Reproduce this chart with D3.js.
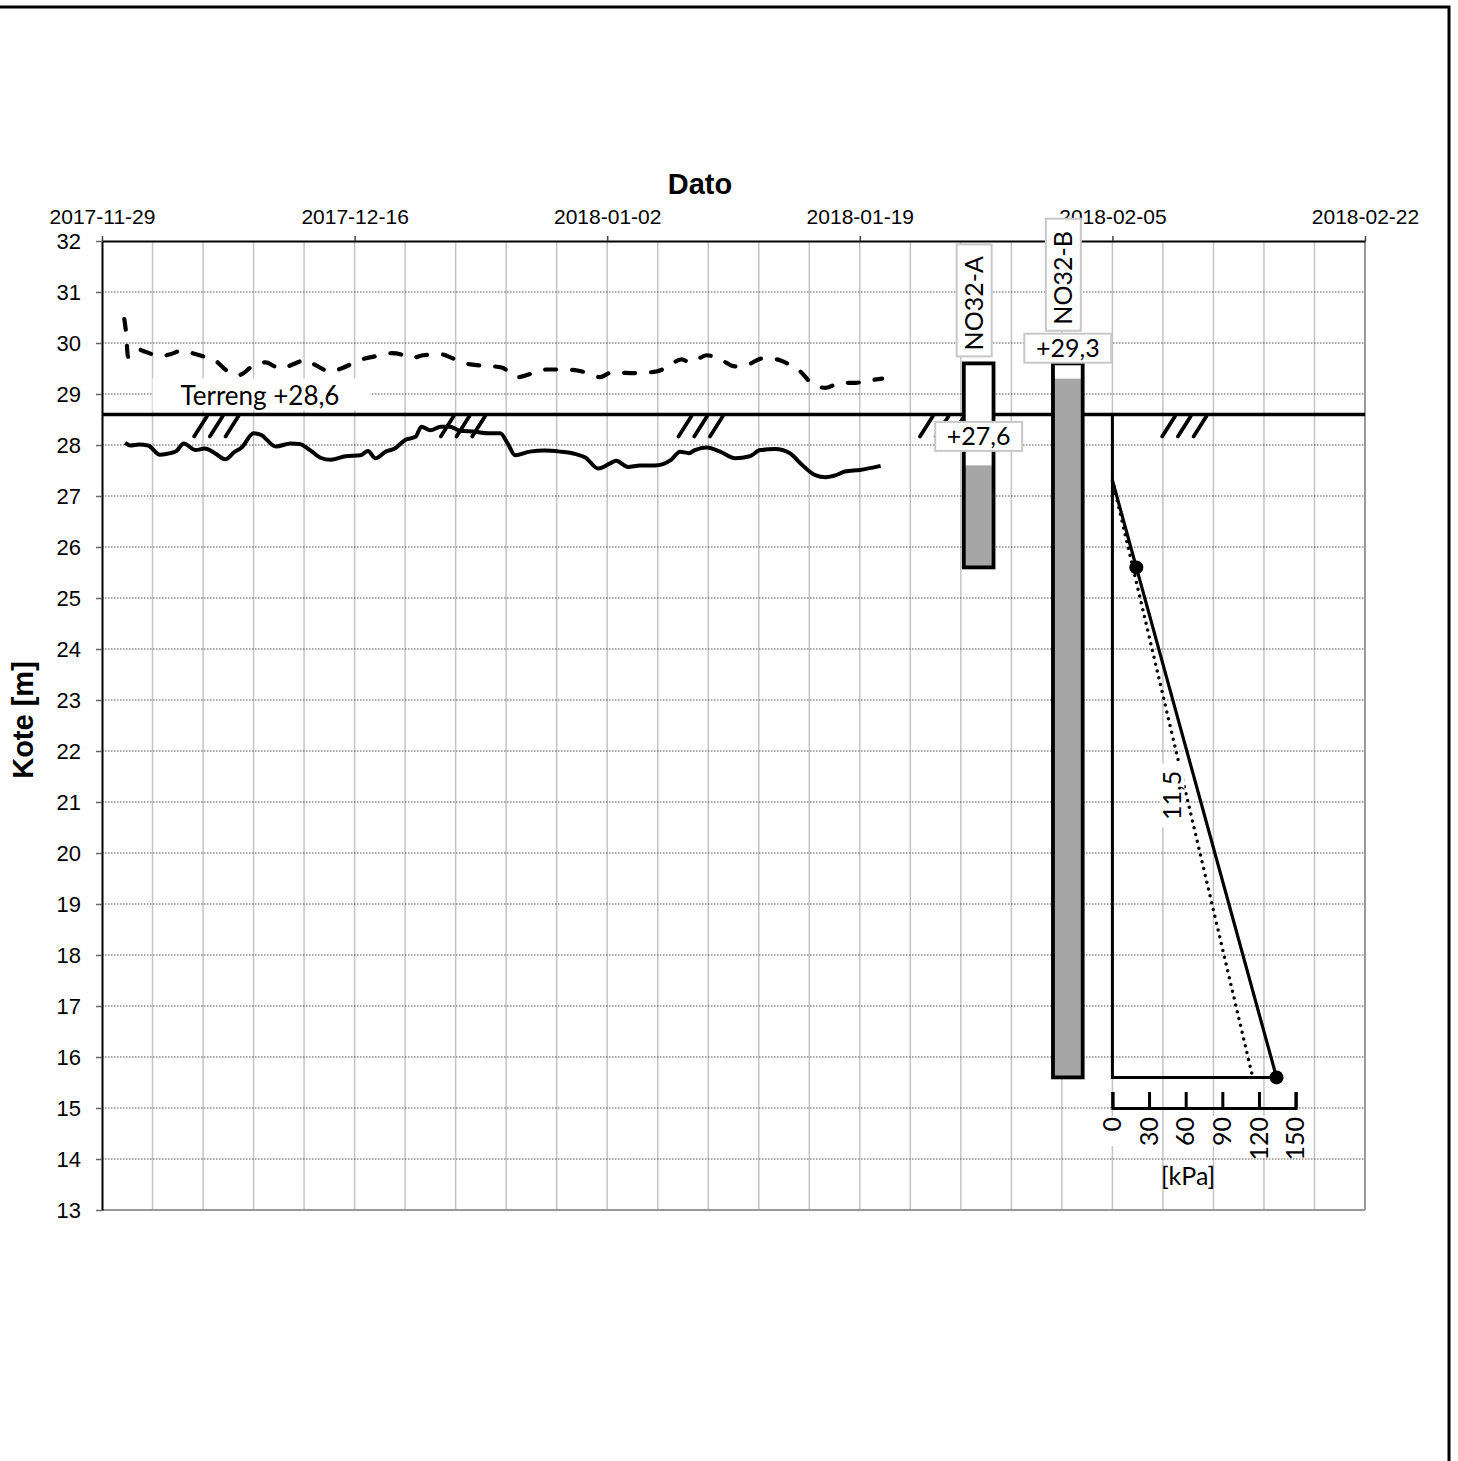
<!DOCTYPE html>
<html><head><meta charset="utf-8">
<script src="https://cdn.jsdelivr.net/npm/d3@7"></script>
<style>
html,body{margin:0;padding:0;background:#fff;}
svg{display:block;}
</style></head>
<body>
<svg id="chart" width="1458" height="1461"></svg>
<script>
// ---------------- DATA ----------------
const dateTicks = ["2017-11-29","2017-12-16","2018-01-02","2018-01-19","2018-02-05","2018-02-22"];
const yTickLabels = [13,14,15,16,17,18,19,20,21,22,23,24,25,26,27,28,29,30,31,32];

// upper (dashed) series: days since 2017-11-29, level [m]
const upperDays = [1.5,1.62,1.75,1.9,2.3,3.0,3.9,4.6,5.4,6.1,6.8,7.6,8.4,9.2,10.2,11.0,12.0,13.0,13.7,14.4,15.4,16.1,17.4,18.4,19.5,20.3,20.8,21.6,22.8,23.6,24.8,26.0,26.9,28.0,28.9,29.9,31.0,32.0,33.0,33.5,34.3,35.6,36.6,37.3,38.0,39.0,39.6,40.7,41.6,42.6,43.4,44.5,45.4,46.3,47.0,47.8,48.7,49.7,50.7,51.7,52.5];
const upperLevels = [30.47,30.2,29.73,29.78,29.88,29.82,29.74,29.78,29.85,29.8,29.74,29.66,29.46,29.37,29.56,29.62,29.5,29.6,29.67,29.56,29.44,29.5,29.67,29.74,29.8,29.76,29.7,29.76,29.78,29.7,29.58,29.55,29.52,29.33,29.4,29.48,29.48,29.46,29.38,29.33,29.42,29.41,29.42,29.44,29.52,29.68,29.62,29.76,29.68,29.54,29.57,29.7,29.68,29.57,29.44,29.2,29.12,29.22,29.22,29.27,29.3];

// lower (solid) series
const lowerDays = [1.55,1.9,2.5,3.1,3.9,4.6,5.0,5.5,6.3,6.9,7.6,8.3,8.9,9.4,10.2,10.7,11.7,12.7,13.3,14.0,14.7,15.4,16.4,17.4,17.9,18.4,19.1,19.7,20.4,21.1,21.5,22.1,22.8,23.4,24.1,25.1,26.0,26.8,27.3,27.8,28.8,29.8,30.8,31.9,32.5,33.4,34.2,34.6,35.4,36.2,37.2,38.3,38.9,39.5,39.9,40.7,41.6,42.6,43.6,44.3,45.3,46.3,47.0,48.0,48.7,49.4,50.0,51.0,52.4];
const lowerLevels = [28.04,27.99,28.01,27.99,27.81,27.84,27.88,28.03,27.9,27.93,27.84,27.72,27.86,27.95,28.23,28.2,27.97,28.03,28.02,27.9,27.75,27.71,27.78,27.8,27.88,27.74,27.87,27.93,28.1,28.16,28.36,28.29,28.36,28.36,28.28,28.26,28.23,28.23,28.03,27.8,27.87,27.89,27.87,27.82,27.76,27.54,27.64,27.69,27.57,27.6,27.6,27.71,27.87,27.84,27.9,27.95,27.87,27.74,27.78,27.9,27.92,27.84,27.64,27.41,27.37,27.41,27.48,27.51,27.59];

// terrain
const terrainLevel = 28.6;
const terrainLabel = "Terreng +28,6";
const hatchDays = [6.2, 22.8, 38.8, 55.05, 71.35];

// piezometers
const pipeNames = ["NO32-A","NO32-B"];
const pipeDates = ["2018-01-27","2018-02-02"];
const pipeTop = [29.6, 29.6];
const pipeBottom = [25.6, 15.6];
const pipeWater = [27.6, 29.3];
const pipeWaterLabels = ["+27,6","+29,3"];

// pore-pressure diagram
const pressureOriginDate = "2018-02-05";
const daysPerKPa = 0.0822;
const pressureKPa = [0, 19.6, 134.4];
const pressureLevel = [27.31, 25.6, 15.6];
const hydroKPa = [0, 114.1];
const hydroLevel = [27.31, 15.68];
const kPaTicks = [0,30,60,90,120,150];
const kPaAxisLevel = 15;
const gradientLabel = "11,5";
const kPaUnit = "[kPa]";

// ---------------- CHART ----------------
const svg = d3.select("#chart");
const AX = "'Liberation Sans', Arial, sans-serif";
const LB = "Lato, 'Carlito', Calibri, sans-serif";
const parse = d3.utcParse("%Y-%m-%d");
const start = parse(dateTicks[0]);
const dayToDate = d => new Date(start.getTime() + d * 864e5);
const dateToDay = s => (parse(s) - start) / 864e5;

const x = d3.scaleUtc().domain([parse(dateTicks[0]), parse(dateTicks[dateTicks.length-1])]).range([102, 1365]);
const y = d3.scaleLinear().domain([13, 32]).range([1210, 241]);
const X0 = x.range()[0], X1 = x.range()[1];

// outer frame
svg.append("rect").attr("x", -10).attr("y", 7).attr("width", 1459).attr("height", 1480)
  .attr("fill", "none").attr("stroke", "#000").attr("stroke-width", 3);

// vertical grid (5 per major interval)
const majorDays = dateToDay(dateTicks[1]);
const minorStep = majorDays / 5;
const nMinor = Math.round(dateToDay(dateTicks[dateTicks.length-1]) / minorStep);
const gGrid = svg.append("g");
d3.range(1, nMinor + 1).forEach(i => {
  const xx = x(dayToDate(i * minorStep));
  gGrid.append("line").attr("x1", xx).attr("x2", xx).attr("y1", y(32)).attr("y2", y(13))
    .attr("stroke", i === nMinor ? "#999" : "#c4c4c4").attr("stroke-width", i === nMinor ? 2 : 1.5);
});
// horizontal dotted grid
yTickLabels.forEach(v => {
  if (v === 32 || v === 13) return;
  gGrid.append("line").attr("x1", X0).attr("x2", X1).attr("y1", y(v)).attr("y2", y(v))
    .attr("stroke", "#555").attr("stroke-width", 1).attr("stroke-dasharray", "1.5,1.5");
});
gGrid.append("line").attr("x1", X0).attr("x2", X1).attr("y1", y(13)).attr("y2", y(13))
  .attr("stroke", "#999").attr("stroke-width", 2);

// top axis
const gTop = svg.append("g").attr("transform", `translate(0,${y(32)})`)
  .call(d3.axisTop(x).tickValues(dateTicks.map(parse)).tickFormat(d3.utcFormat("%Y-%m-%d"))
    .tickSize(5).tickSizeOuter(0).tickPadding(12));
gTop.select(".domain").attr("stroke", "#000").attr("stroke-width", 2);
gTop.selectAll(".tick line").attr("stroke", "#444").attr("stroke-width", 1.5);
gTop.selectAll(".tick text").attr("font-family", AX).attr("font-size", 21).attr("fill", "#000");

// left axis
const gLeft = svg.append("g").attr("transform", `translate(${X0},0)`)
  .call(d3.axisLeft(y).tickValues(yTickLabels).tickFormat(d3.format("d")).tickSize(6).tickSizeOuter(0).tickPadding(15));
gLeft.select(".domain").attr("stroke", "#000").attr("stroke-width", 2);
gLeft.selectAll(".tick line").attr("stroke", "#666").attr("stroke-width", 1.5);
gLeft.selectAll(".tick text").attr("font-family", AX).attr("font-size", 22).attr("fill", "#000");

// axis titles
svg.append("text").attr("x", 700).attr("y", 194).attr("text-anchor", "middle")
  .attr("font-family", AX).attr("font-weight", "bold").attr("font-size", 29).text("Dato");
svg.append("text").attr("transform", "translate(33,720) rotate(-90)").attr("text-anchor", "middle")
  .attr("font-family", AX).attr("font-weight", "bold").attr("font-size", 29).text("Kote [m]");

// terrain line
const yT = y(terrainLevel);
svg.append("line").attr("x1", X0).attr("x2", X1).attr("y1", yT).attr("y2", yT)
  .attr("stroke", "#000").attr("stroke-width", 3.5);

// hatches
hatchDays.forEach(hd => {
  const bx = x(dayToDate(hd));
  for (let i = 0; i < 3; i++) {
    svg.append("line").attr("x1", bx + i * 15.7).attr("y1", yT + 22)
      .attr("x2", bx + i * 15.7 + 13).attr("y2", yT + 1.5)
      .attr("stroke", "#000").attr("stroke-width", 3.8).attr("stroke-linecap", "round");
  }
});

// series
const line = d3.line().x(d => x(dayToDate(d[0]))).y(d => y(d[1])).curve(d3.curveMonotoneX);
svg.append("path").datum(lowerDays.map((d, i) => [d, lowerLevels[i]])).attr("d", line)
  .attr("fill", "none").attr("stroke", "#000").attr("stroke-width", 4).attr("stroke-linejoin", "round");
svg.append("path").datum(upperDays.map((d, i) => [d, upperLevels[i]])).attr("d", line)
  .attr("fill", "none").attr("stroke", "#000").attr("stroke-width", 4.2)
  .attr("stroke-dasharray", "11,16").attr("stroke-linecap", "round").attr("stroke-linejoin", "round");

// terrain label
const tlx = x(dayToDate(minorStep));
svg.append("rect").attr("x", tlx).attr("y", yT - 36).attr("width", 218).attr("height", 32).attr("fill", "#fff");
svg.append("text").attr("x", tlx + 28).attr("y", yT - 9).attr("font-family", LB).attr("font-size", 26)
  .attr("fill", "#000").text(terrainLabel);

// piezometer pipes
pipeNames.forEach((name, i) => {
  const d = dateToDay(pipeDates[i]);
  const xl = x(dayToDate(d - 1)), xr = x(dayToDate(d + 1));
  const yt = y(pipeTop[i]), yb = y(pipeBottom[i]), yw = y(pipeWater[i]);
  svg.append("rect").attr("x", xl).attr("y", yt).attr("width", xr - xl).attr("height", yb - yt).attr("fill", "#fff");
  svg.append("rect").attr("x", xl).attr("y", yw).attr("width", xr - xl).attr("height", yb - yw).attr("fill", "#a6a6a6");
  svg.append("rect").attr("x", xl).attr("y", yt).attr("width", xr - xl).attr("height", yb - yt)
    .attr("fill", "none").attr("stroke", "#000").attr("stroke-width", 3.8);
});

// pore-pressure diagram
const od = dateToDay(pressureOriginDate);
const pX = d3.scaleLinear().domain([0, 150]).range([x(dayToDate(od)), x(dayToDate(od + 150 * daysPerKPa))]);
const baseLevel = pressureLevel[pressureLevel.length - 1];
const maxP = pressureKPa[pressureKPa.length - 1];
svg.append("path")
  .attr("d", `M${pX(0)},${yT}V${y(baseLevel)}H${pX(maxP)}`)
  .attr("fill", "none").attr("stroke", "#000").attr("stroke-width", 3);
const pLine = d3.line().x(d => pX(d[0])).y(d => y(d[1]));
svg.append("path").datum(hydroKPa.map((p, i) => [p, hydroLevel[i]])).attr("d", pLine)
  .attr("fill", "none").attr("stroke", "#000").attr("stroke-width", 3.5)
  .attr("stroke-dasharray", "0,7").attr("stroke-linecap", "round");
svg.append("path").datum(pressureKPa.map((p, i) => [p, pressureLevel[i]])).attr("d", pLine)
  .attr("fill", "none").attr("stroke", "#000").attr("stroke-width", 3.2);
pressureKPa.forEach((p, i) => {
  if (i === 0) return;
  svg.append("circle").attr("cx", pX(p)).attr("cy", y(pressureLevel[i])).attr("r", 7).attr("fill", "#000");
});

// gradient label
const gx = (pX(pressureKPa[1]) + pX(pressureKPa[2])) / 2 - 34;
const gy = (y(pressureLevel[1]) + y(pressureLevel[2])) / 2 - 27;
svg.append("rect").attr("x", gx - 12).attr("y", gy - 32).attr("width", 24).attr("height", 64).attr("fill", "#fff");
svg.append("text").attr("transform", `translate(${gx},${gy}) rotate(-90)`).attr("text-anchor", "middle")
  .attr("dy", "0.35em").attr("font-family", LB).attr("font-size", 25).text(gradientLabel);

// kPa axis
const yK = y(kPaAxisLevel);
const gK = svg.append("g").attr("transform", `translate(0,${yK})`)
  .call(d3.axisTop(pX).tickValues(kPaTicks).tickSize(16).tickSizeOuter(16).tickFormat(""));
gK.select(".domain").attr("stroke", "#000").attr("stroke-width", 3).attr("fill", "none");
gK.selectAll(".tick line").attr("stroke", "#000").attr("stroke-width", 3);
kPaTicks.forEach(v => {
  svg.append("rect").attr("x", pX(v) - 10).attr("y", yK + 8).attr("width", 20).attr("height", v >= 100 ? 42 : 30).attr("fill", "#fff");
  svg.append("text").attr("transform", `translate(${pX(v)},${yK + 9}) rotate(-90)`)
    .attr("text-anchor", "end").attr("dy", "0.35em").attr("font-family", LB).attr("font-size", 25).text(v);
});
svg.append("text").attr("x", pX(62)).attr("y", yK + 77).attr("text-anchor", "middle")
  .attr("font-family", LB).attr("font-size", 25).text(kPaUnit);

// piezometer labels
pipeNames.forEach((name, i) => {
  const d = dateToDay(pipeDates[i]);
  const cx = x(dayToDate(d));
  const yw = y(pipeWater[i]);
  const vbW = 87, vbH = 29;
  const vbTop = yw - 29 - vbH / 2 - (i === 1 ? 1.5 : 0);
  svg.append("rect").attr("x", cx - vbW / 2).attr("y", vbTop).attr("width", vbW).attr("height", vbH)
    .attr("fill", "#fff").attr("stroke", "#c8c8c8").attr("stroke-width", 2);
  svg.append("text").attr("x", cx).attr("y", vbTop + vbH / 2).attr("dy", "0.36em").attr("text-anchor", "middle")
    .attr("font-family", LB).attr("font-size", 25).text(pipeWaterLabels[i]);
  const nbBottom = Math.min(y(pipeTop[i]) - 7, vbTop - 3);
  const nbH = 112, nbW = 35, ncx = cx - 4.5;
  svg.append("rect").attr("x", ncx - nbW / 2).attr("y", nbBottom - nbH).attr("width", nbW).attr("height", nbH)
    .attr("fill", "#fff").attr("stroke", "#c8c8c8").attr("stroke-width", 2);
  svg.append("text").attr("transform", `translate(${ncx},${nbBottom - 6}) rotate(-90)`)
    .attr("dy", "0.36em").attr("text-anchor", "start").attr("font-family", LB).attr("font-size", 25).text(name);
});
</script>
</body></html>
